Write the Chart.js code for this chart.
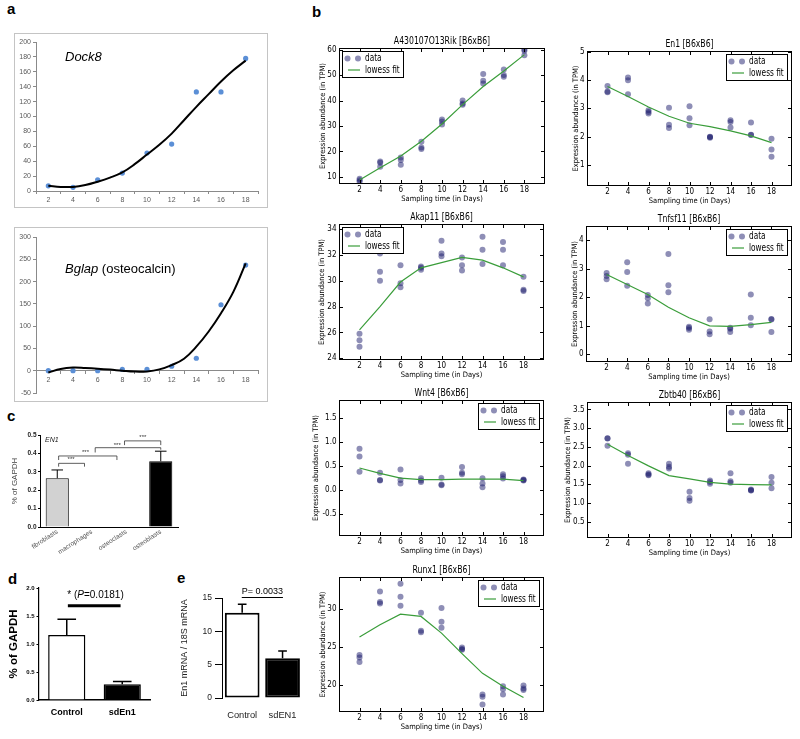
<!DOCTYPE html>
<html><head><meta charset="utf-8">
<script src="https://cdn.jsdelivr.net/npm/chart.js@4.4.1/dist/chart.umd.min.js"></script>
<style>
html,body{margin:0;padding:0;background:#fff}
body{width:800px;height:739px;position:relative;overflow:hidden;font-family:"Liberation Sans",Arial,sans-serif}
.lbl{position:absolute;font-weight:bold;font-size:15px;line-height:16px;font-family:"Liberation Sans",Arial,sans-serif;color:#000}
.box{position:absolute;border:1px solid #c4c4c4;background:#fff}
</style></head><body>
<div class="lbl" style="left:7px;top:1px">a</div>
<div class="lbl" style="left:312px;top:4px">b</div>
<div class="lbl" style="left:7px;top:408px">c</div>
<div class="lbl" style="left:8px;top:571px">d</div>
<div class="lbl" style="left:177px;top:570px">e</div>
<div class="box" style="left:14px;top:33px;width:252px;height:173px"></div>
<div class="box" style="left:14px;top:227px;width:252px;height:173px"></div>
<script>
// ---------------- DATA ----------------
// panel a (Excel-style plots)
const excelDays = [2, 4, 6, 8, 10, 12, 14, 16, 18];
const dock8Values = [7, 5, 15, 24, 51, 63, 133, 133, 178];
const trendDays = [2, 3, 4, 5, 6, 7, 8, 9, 10, 11, 12, 13, 14, 15, 16, 17, 18];
const dock8Trend = [7, 5.5, 5.5, 8, 12.5, 18, 25, 36, 49, 62, 77, 95, 113, 130, 147, 162, 175];
const bglapValues = [0, 0, 0, 3, 3, 10, 28, 148, 237];
const bglapTrend = [-4, 4, 7, 6, 4.5, 2.5, 0, -2, -1.5, 3, 12.7, 27, 54, 88, 129, 177, 241];
const dock8YTicks = [0, 20, 40, 60, 80, 100, 120, 140, 160, 180, 200];
const bglapYTicks = [-50, 0, 50, 100, 150, 200, 250, 300];

// panel b (three replicates per sampling day + lowess fit)
const samplingDays = [2, 4, 6, 8, 10, 12, 14, 16, 18];
const a430Reps = [[9.3,8.7,8.1],[16.1,15.6,14.0],[17.6,16.7,14.8],[23.8,21.6,21.0],[32.6,31.8,30.6],[40.0,38.8,38.3],[50.4,47.8,46.7],[52.2,50.0,49.3],[60.0,59.5,57.8]];
const a430Lowess = [8.8, 13.6, 18.2, 24.0, 30.8, 38.4, 45.5, 51.6, 58.0];
const en1Reps = [[3.8,3.6,3.57],[4.1,4.0,3.5],[2.93,2.87,2.82],[3.02,2.42,2.3],[3.08,2.65,2.4],[1.99,1.98,1.96],[2.58,2.52,2.32],[2.5,2.06,2.05],[1.92,1.54,1.28]];
const en1Lowess = [3.78, 3.42, 3.05, 2.72, 2.47, 2.35, 2.2, 2.02, 1.78];
const akap11Reps = [[25.9,25.4,24.9],[32.1,30.7,30.0],[31.2,29.8,29.5],[31.1,31.0,30.85],[33.1,32.1,31.9],[31.8,31.2,30.8],[33.4,32.4,31.3],[33.0,32.4,31.2],[30.3,29.3,29.2]];
const akap11Lowess = [26.2, 28.0, 29.9, 31.0, 31.4, 31.8, 31.6, 31.0, 30.3];
const tnfsf11Reps = [[2.85,2.75,2.63],[3.23,2.89,2.4],[2.08,1.97,1.78],[3.52,2.42,2.18],[0.97,0.92,0.86],[1.23,0.8,0.7],[0.93,0.9,0.78],[2.1,1.28,1.02],[1.24,1.22,0.78]];
const tnfsf11Lowess = [2.8, 2.45, 2.1, 1.65, 1.28, 1.0, 0.98, 1.04, 1.12];
const wnt4Reps = [[0.86,0.70,0.38],[0.36,0.21,0.20],[0.43,0.21,0.14],[0.25,0.2,0.17],[0.26,0.12,0.1],[0.48,0.36,0.33],[0.25,0.14,0.06],[0.33,0.29,0.24],[0.22,0.21,0.2]];
const wnt4Lowess = [0.46, 0.35, 0.25, 0.22, 0.22, 0.23, 0.23, 0.23, 0.2];
const zbtb40Reps = [[2.73,2.72,2.53],[2.33,2.29,2.05],[1.79,1.76,1.74],[2.05,1.97,1.92],[1.30,1.13,1.06],[1.6,1.56,1.51],[1.79,1.58,1.54],[1.36,1.34,1.33],[1.69,1.54,1.39]];
const zbtb40Lowess = [2.57, 2.27, 1.99, 1.73, 1.64, 1.55, 1.5, 1.49, 1.48];
const runx1Reps = [[23.9,23.6,23.0],[32.3,30.9,30.7],[33.3,31.6,30.4],[29.5,27.1,26.9],[30.1,28.3,27.5],[24.9,24.7,24.6],[18.7,18.4,17.4],[19.8,19.4,18.7],[19.9,19.5,19.3]];
const runx1Lowess = [26.3, 27.9, 29.3, 29.0, 26.8, 24.1, 21.5, 19.8, 18.3];
const a430YTicks = [10, 20, 30, 40, 50, 60];
const en1YTicks = [1, 2, 3, 4, 5];
const akap11YTicks = [24, 26, 28, 30, 32, 34];
const tnfsf11YTicks = [0, 1, 2, 3, 4];
const wnt4YTicks = [-0.5, 0, 0.5, 1.0, 1.5];
const zbtb40YTicks = [0.5, 1.0, 1.5, 2.0, 2.5, 3.0, 3.5];
const runx1YTicks = [20, 25, 30];

// panel c
const cellTypes = ['fibroblasts', 'macrophages', 'osteoclasts', 'osteoblasts'];
const en1Gapdh = [0.265, 0, 0, 0.357];
const en1GapdhErr = [0.045, 0, 0, 0.055];

// panel d
const dGroups = ['Control', 'sdEn1'];
const dValues = [1.16, 0.28];
const dErr = [0.28, 0.05];

// panel e
const eGroups = ['Control', 'sdEN1'];
const eValues = [12.8, 5.95];
const eErr = [1.25, 1.1];

// ---------------- SETUP ----------------
Chart.defaults.animation = false;
Chart.defaults.responsive = false;
Chart.defaults.maintainAspectRatio = false;
Chart.defaults.devicePixelRatio = 1;
Chart.defaults.plugins.legend.display = false;
Chart.defaults.plugins.tooltip.enabled = false;
Chart.defaults.plugins.title.display = false;
Chart.defaults.font.family = '"Liberation Sans", Arial, sans-serif';

const mplFont = '"DejaVu Sans Condensed", "DejaVu Sans", sans-serif';
const arial = '"Liberation Sans", Arial, sans-serif';
const markerColor = 'rgba(30,30,110,0.5)';
const lowessColor = '#3a9d3a';

function mk(left, top, w, h) {
  const c = document.createElement('canvas');
  c.width = w; c.height = h;
  c.style.cssText = 'position:absolute;left:' + left + 'px;top:' + top + 'px;width:' + w + 'px;height:' + h + 'px';
  document.body.appendChild(c);
  return c.getContext('2d');
}

// draw text with horizontal compression (the original figure is squeezed horizontally)
function squeezedText(ctx, text, x, y, sx) {
  ctx.save();
  ctx.translate(x, y);
  ctx.scale(sx, 1);
  ctx.fillText(text, 0, 0);
  ctx.restore();
}

// ---------------- PANEL A ----------------
function buildExcel(top, values, trend, yMin, yMax, yTicks, atZero, labelParts, labelY) {
  const ctx = mk(15, top, 252, 173);
  const oddTicks = [];
  for (let v = 1; v <= 19; v++) oddTicks.push(v);
  new Chart(ctx, {
    type: 'scatter',
    data: { datasets: [
      { data: trendDays.map((d, i) => ({ x: d, y: trend[i] })), showLine: true, borderColor: '#000', borderWidth: 2, pointRadius: 0, tension: 0.4 },
      { data: excelDays.map((d, i) => ({ x: d, y: values[i] })), pointRadius: 2.6, pointBackgroundColor: '#5b8fd6', pointBorderWidth: 0 }
    ] },
    options: {
      layout: { padding: { top: atZero ? 9 : 8, right: 9, bottom: atZero ? 8 : 0, left: 0 } },
      scales: {
        x: {
          type: 'linear', min: 1, max: 19, position: atZero ? { y: 0 } : 'bottom',
          afterBuildTicks: s => { s.ticks = oddTicks.map(v => ({ value: v })); },
          afterFit: s => { if (!atZero) s.height = 16; },
          ticks: { autoSkip: false, maxRotation: 0, padding: 2, color: '#595959', font: { size: 7, family: arial },
                   callback: v => (excelDays.includes(v) ? String(v) : '') },
          grid: { drawOnChartArea: false, tickLength: 3, color: c => (c.tick && c.tick.value % 2 === 1) ? '#8a8a8a' : 'rgba(0,0,0,0)' },
          border: { color: '#8a8a8a' }
        },
        y: {
          type: 'linear', min: yMin, max: yMax,
          afterBuildTicks: s => { s.ticks = yTicks.map(v => ({ value: v })); },
          afterFit: s => { s.width = 21; },
          ticks: { autoSkip: false, padding: 2, color: '#595959', font: { size: 7, family: arial } },
          grid: { drawOnChartArea: false, tickLength: 3, color: '#8a8a8a' },
          border: { color: '#8a8a8a' }
        }
      }
    },
    plugins: [{
      id: 'excelLabel',
      afterDraw(chart) {
        const c = chart.ctx; c.save();
        c.fillStyle = '#000'; c.textBaseline = 'alphabetic'; c.textAlign = 'left';
        let x = 50;
        labelParts.forEach(p => {
          c.font = (p.italic ? 'italic ' : '') + '13px ' + arial;
          c.fillText(p.t, x, labelY);
          x += c.measureText(p.t).width;
        });
        c.restore();
      }
    }]
  });
}
buildExcel(34, dock8Values, dock8Trend, 0, 200, dock8YTicks, false, [{ t: 'Dock8', italic: true }], 27);
buildExcel(228, bglapValues, bglapTrend, -50, 300, bglapYTicks, true, [{ t: 'Bglap', italic: true }, { t: ' (osteocalcin)', italic: false }], 45);

// ---------------- PANEL B ----------------
const mplPlugin = {
  id: 'mpl',
  afterDraw(chart, args, o) {
    const { ctx, chartArea: a, scales: { x, y } } = chart;
    ctx.save();
    ctx.strokeStyle = '#000'; ctx.lineWidth = 1;
    ctx.beginPath();
    x.ticks.forEach(t => {
      const px = Math.round(x.getPixelForValue(t.value)) + 0.5;
      ctx.moveTo(px, a.bottom); ctx.lineTo(px, a.bottom - 4);
      ctx.moveTo(px, a.top); ctx.lineTo(px, a.top + 4);
    });
    y.ticks.forEach(t => {
      const py = Math.round(y.getPixelForValue(t.value)) + 0.5;
      ctx.moveTo(a.left, py); ctx.lineTo(a.left + 4, py);
      ctx.moveTo(a.right, py); ctx.lineTo(a.right - 4, py);
    });
    ctx.stroke();
    ctx.strokeRect(Math.round(a.left) + 0.5, Math.round(a.top) + 0.5, Math.round(a.right - a.left) - 1, Math.round(a.bottom - a.top) - 1);
    // title
    ctx.fillStyle = '#000'; ctx.font = '10px ' + mplFont; ctx.textAlign = 'center'; ctx.textBaseline = 'middle';
    squeezedText(ctx, o.title, (a.left + a.right) / 2, a.top - 7, 0.86);
    // legend
    const bw = 61, bh = 26;
    const bx = Math.round(o.legend === 'left' ? a.left + 3 : a.right - 5 - bw);
    const by = Math.round(a.top + 3);
    ctx.fillStyle = '#fff'; ctx.fillRect(bx, by, bw, bh);
    ctx.strokeRect(bx + 0.5, by + 0.5, bw, bh);
    ctx.fillStyle = markerColor;
    [5.5, 16].forEach(dx => { ctx.beginPath(); ctx.arc(bx + dx, by + 7.5, 3, 0, Math.PI * 2); ctx.fill(); });
    ctx.strokeStyle = lowessColor; ctx.lineWidth = 1.2;
    ctx.beginPath(); ctx.moveTo(bx + 6, by + 19); ctx.lineTo(bx + 18, by + 19); ctx.stroke();
    ctx.fillStyle = '#000'; ctx.font = '10px ' + mplFont; ctx.textAlign = 'left';
    squeezedText(ctx, 'data', bx + 23, by + 7.5, 0.82);
    squeezedText(ctx, 'lowess fit', bx + 23, by + 19, 0.82);
    ctx.restore();
  }
};

function buildB(cfg) {
  const [L, T, R, B] = cfg.rect;
  const YW = 32, TT = 17, XB = 20, PR = 6;
  const ctx = mk(L - YW, T - TT, R - L + YW + PR, B - T + TT + XB);
  const lh = 7.5 * 1.2;
  new Chart(ctx, {
    type: 'scatter',
    data: { datasets: [
      { data: samplingDays.map((d, i) => ({ x: d, y: cfg.lowess[i] })), showLine: true, borderColor: lowessColor, borderWidth: 1.2, pointRadius: 0, tension: 0 },
      { data: samplingDays.flatMap((d, i) => cfg.reps[i].map(v => ({ x: d, y: v }))), pointRadius: 3, pointBackgroundColor: markerColor, pointBorderWidth: 0 }
    ] },
    options: {
      layout: { padding: { top: TT, right: PR, left: 0, bottom: 0 } },
      scales: {
        x: {
          type: 'linear', min: 0, max: 20,
          afterBuildTicks: s => { s.ticks = samplingDays.map(v => ({ value: v })); },
          afterFit: s => { s.height = XB; },
          ticks: { autoSkip: false, maxRotation: 0, padding: 1, color: '#000', font: { size: 8, family: mplFont }, callback: v => String(v) },
          grid: { display: false, drawTicks: false }, border: { display: false },
          title: { display: true, text: 'Sampling time (in Days)', color: '#000', font: { size: 7.5, family: mplFont }, padding: { top: 0, bottom: 0 } }
        },
        y: {
          type: 'linear', min: cfg.yMin, max: cfg.yMax,
          afterBuildTicks: s => { s.ticks = cfg.yTicks.map(v => ({ value: v })); },
          afterFit: s => { s.width = YW; },
          ticks: { autoSkip: false, padding: 2.5, color: '#000', font: { size: 8, family: mplFont }, callback: v => v.toFixed(cfg.dec) },
          grid: { display: false, drawTicks: false }, border: { display: false },
          title: { display: true, text: 'Expression abundance (in TPM)', color: '#000', font: { size: 7.5, family: mplFont }, padding: { top: YW - cfg.ylo - lh / 2, bottom: 0 } }
        }
      },
      plugins: { mpl: { title: cfg.title, legend: cfg.legend } }
    },
    plugins: [mplPlugin]
  });
}

[
  { title: 'A430107O13Rik [B6xB6]', reps: a430Reps, lowess: a430Lowess, yTicks: a430YTicks, dec: 0, rect: [339, 48, 545, 184], yMin: 7.25, yMax: 60.6, legend: 'left', ylo: 16 },
  { title: 'En1 [B6xB6]', reps: en1Reps, lowess: en1Lowess, yTicks: en1YTicks, dec: 0, rect: [587, 51, 792, 186], yMin: 0.24, yMax: 5.04, legend: 'right', ylo: 11 },
  { title: 'Akap11 [B6xB6]', reps: akap11Reps, lowess: akap11Lowess, yTicks: akap11YTicks, dec: 0, rect: [339, 224, 544, 360], yMin: 23.87, yMax: 34.39, legend: 'left', ylo: 16.5 },
  { title: 'Tnfsf11 [B6xB6]', reps: tnfsf11Reps, lowess: tnfsf11Lowess, yTicks: tnfsf11YTicks, dec: 0, rect: [586, 226, 792, 362], yMin: -0.27, yMax: 4.5, legend: 'right', ylo: 11 },
  { title: 'Wnt4 [B6xB6]', reps: wnt4Reps, lowess: wnt4Lowess, yTicks: wnt4YTicks, dec: 1, rect: [339, 400, 544, 536], yMin: -0.95, yMax: 1.87, legend: 'right', ylo: 23 },
  { title: 'Zbtb40 [B6xB6]', reps: zbtb40Reps, lowess: zbtb40Lowess, yTicks: zbtb40YTicks, dec: 1, rect: [587, 402, 792, 538], yMin: 0.06, yMax: 3.7, legend: 'right', ylo: 18.5 },
  { title: 'Runx1 [B6xB6]', reps: runx1Reps, lowess: runx1Lowess, yTicks: runx1YTicks, dec: 0, rect: [339, 577, 544, 712], yMin: 16.4, yMax: 34.2, legend: 'right', ylo: 15.5 }
].forEach(buildB);

// ---------------- ERROR BARS ----------------
const errPlugin = {
  id: 'errbars',
  afterDatasetsDraw(chart, args, o) {
    const meta = chart.getDatasetMeta(0), y = chart.scales.y, ctx = chart.ctx;
    const vals = chart.data.datasets[0].data;
    ctx.save(); ctx.strokeStyle = '#000'; ctx.lineWidth = o.lw;
    meta.data.forEach((el, i) => {
      const e = o.errors[i]; if (!e) return;
      const yt = y.getPixelForValue(vals[i] + e);
      const hw = el.width * o.cap / 2;
      ctx.beginPath();
      ctx.moveTo(el.x, el.y); ctx.lineTo(el.x, yt);
      ctx.moveTo(el.x - hw, yt); ctx.lineTo(el.x + hw, yt);
      ctx.stroke();
    });
    ctx.restore();
  }
};

// ---------------- PANEL C ----------------
(function () {
  const ctx = mk(0, 428, 185, 140);
  new Chart(ctx, {
    type: 'bar',
    data: { labels: cellTypes, datasets: [{ data: en1Gapdh, backgroundColor: ['#d2d2d2', '#d2d2d2', '#d2d2d2', '#000'], borderColor: '#000', borderWidth: 1, barPercentage: 0.67, categoryPercentage: 1 }] },
    options: {
      layout: { padding: { top: 7, right: 7, left: 0, bottom: 0 } },
      scales: {
        x: {
          afterFit: s => { s.height = 41; },
          ticks: { autoSkip: false, minRotation: 33, maxRotation: 33, padding: 1, color: '#555', font: { size: 6.5 } },
          grid: { display: false, drawTicks: false }, border: { color: '#000' }
        },
        y: {
          min: 0, max: 0.5,
          afterFit: s => { s.width = 40; },
          ticks: { stepSize: 0.1, padding: 1.5, color: '#222', font: { size: 6.5, weight: 'bold' }, callback: v => v.toFixed(1) },
          grid: { drawOnChartArea: false, tickLength: 2, color: '#000' }, border: { color: '#000' },
          title: { display: true, text: '% of GAPDH', color: '#444', font: { size: 8 }, padding: { top: 10, bottom: 0 } }
        }
      },
      plugins: { errbars: { errors: en1GapdhErr, cap: 0.5, lw: 1 } }
    },
    plugins: [errPlugin, {
      id: 'brackets',
      afterDraw(chart) {
        const { ctx: c, scales: { x, y } } = chart;
        const br = [
          { x1: 0.04, x2: 0.79, y: 0.346, l1: 0.328, l2: 0.328, tx: 0.4, ty: 0.369 },
          { x1: 0.04, x2: 1.73, y: 0.386, l1: 0.364, l2: 0.364, tx: 0.82, ty: 0.408 },
          { x1: 1.1, x2: 3.0, y: 0.431, l1: 0.405, l2: 0.42, tx: 1.74, ty: 0.446 },
          { x1: 1.95, x2: 3.0, y: 0.468, l1: 0.445, l2: 0.445, tx: 2.48, ty: 0.488 }
        ];
        c.save(); c.strokeStyle = '#333'; c.lineWidth = 0.8; c.fillStyle = '#333';
        c.font = '6px ' + arial; c.textAlign = 'center'; c.textBaseline = 'middle';
        br.forEach(b => {
          const X1 = x.getPixelForValue(b.x1), X2 = x.getPixelForValue(b.x2), Y = y.getPixelForValue(b.y);
          c.beginPath();
          c.moveTo(X1, y.getPixelForValue(b.l1)); c.lineTo(X1, Y); c.lineTo(X2, Y); c.lineTo(X2, y.getPixelForValue(b.l2));
          c.stroke();
          c.fillText('***', x.getPixelForValue(b.tx), y.getPixelForValue(b.ty));
        });
        c.font = 'italic 7px ' + arial; c.textAlign = 'left'; c.fillStyle = '#222';
        c.fillText('EN1', 45, 12);
        c.restore();
      }
    }]
  });
})();

// ---------------- PANEL D ----------------
(function () {
  const ctx = mk(0, 582, 160, 140);
  new Chart(ctx, {
    type: 'bar',
    data: { labels: dGroups, datasets: [{ data: dValues, backgroundColor: ['#fff', '#000'], borderColor: '#000', borderWidth: 1.5, barPercentage: 0.67, categoryPercentage: 1 }] },
    options: {
      layout: { padding: { top: 6, right: 10, left: 0, bottom: 0 } },
      scales: {
        x: {
          afterFit: s => { s.height = 22; },
          ticks: { autoSkip: false, maxRotation: 0, padding: 7, color: '#000', font: { size: 9, weight: 'bold' } },
          grid: { display: false, drawTicks: false }, border: { color: '#000', width: 1.5 }
        },
        y: {
          min: 0, max: 2,
          afterFit: s => { s.width = 39; },
          ticks: { stepSize: 0.5, padding: 2, color: '#000', font: { size: 6, weight: 'bold' }, callback: v => v.toFixed(1) },
          grid: { drawOnChartArea: false, tickLength: 2.5, color: '#000' }, border: { color: '#000', width: 1.2 },
          title: { display: true, text: '% of GAPDH', color: '#000', font: { size: 11.5, weight: 'bold' }, padding: { top: 7, bottom: 0 } }
        }
      },
      plugins: { errbars: { errors: dErr, cap: 0.5, lw: 1.5 } }
    },
    plugins: [errPlugin, {
      id: 'dAnnot',
      afterDraw(chart) {
        const { ctx: c, scales: { x, y } } = chart;
        c.save();
        c.strokeStyle = '#000'; c.lineWidth = 3;
        const ly = y.getPixelForValue(1.684);
        c.beginPath(); c.moveTo(x.getPixelForValue(0.02), ly); c.lineTo(x.getPixelForValue(0.97), ly); c.stroke();
        const parts = [{ t: '* (', i: false }, { t: 'P', i: true }, { t: '=0.0181)', i: false }];
        let w = 0;
        parts.forEach(p => { c.font = (p.i ? 'italic ' : '') + '10px ' + arial; w += c.measureText(p.t).width; });
        let px = x.getPixelForValue(0.5) + 1 - w / 2;
        const py = y.getPixelForValue(1.875);
        c.fillStyle = '#000'; c.textBaseline = 'middle'; c.textAlign = 'left';
        parts.forEach(p => { c.font = (p.i ? 'italic ' : '') + '10px ' + arial; c.fillText(p.t, px, py); px += c.measureText(p.t).width; });
        c.restore();
      }
    }]
  });
})();

// ---------------- PANEL E ----------------
(function () {
  const ctx = mk(170, 584, 140, 141);
  new Chart(ctx, {
    type: 'bar',
    data: { labels: eGroups, datasets: [{ data: eValues, backgroundColor: ['#fff', '#000'], borderColor: '#000', borderWidth: 2, borderSkipped: false, barPercentage: 0.86, categoryPercentage: 1 }] },
    options: {
      layout: { padding: { top: 14, right: 6, left: 0, bottom: 0 } },
      scales: {
        x: {
          afterFit: s => { s.height = 27; },
          ticks: { autoSkip: false, maxRotation: 0, padding: 12, color: '#222', font: { size: 9.3 } },
          grid: { display: false, drawTicks: false }, border: { display: false }
        },
        y: {
          min: 0, max: 15,
          afterFit: s => { s.width = 52; },
          ticks: { stepSize: 5, padding: 3, color: '#222', font: { size: 8.5 } },
          grid: { drawOnChartArea: false, tickLength: 7, color: '#000' }, border: { color: '#000' },
          title: { display: true, text: 'En1 mRNA / 18S mRNA', color: '#222', font: { size: 9 }, padding: { top: 9.6, bottom: 0 } }
        }
      },
      plugins: { errbars: { errors: eErr, cap: 0.25, lw: 1.5 } }
    },
    plugins: [errPlugin, {
      id: 'eAnnot',
      afterDraw(chart) {
        const { ctx: c, scales: { x, y } } = chart;
        c.save();
        c.strokeStyle = '#000'; c.lineWidth = 1;
        const ly = Math.round(y.getPixelForValue(15.15)) + 0.5;
        c.beginPath(); c.moveTo(x.getPixelForValue(-0.01), ly); c.lineTo(x.getPixelForValue(1.01), ly); c.stroke();
        c.fillStyle = '#000'; c.font = '9px ' + arial; c.textAlign = 'center'; c.textBaseline = 'middle';
        c.fillText('P= 0.0033', x.getPixelForValue(0.5), y.getPixelForValue(15.9));
        c.restore();
      }
    }]
  });
})();
</script>
</body></html>
